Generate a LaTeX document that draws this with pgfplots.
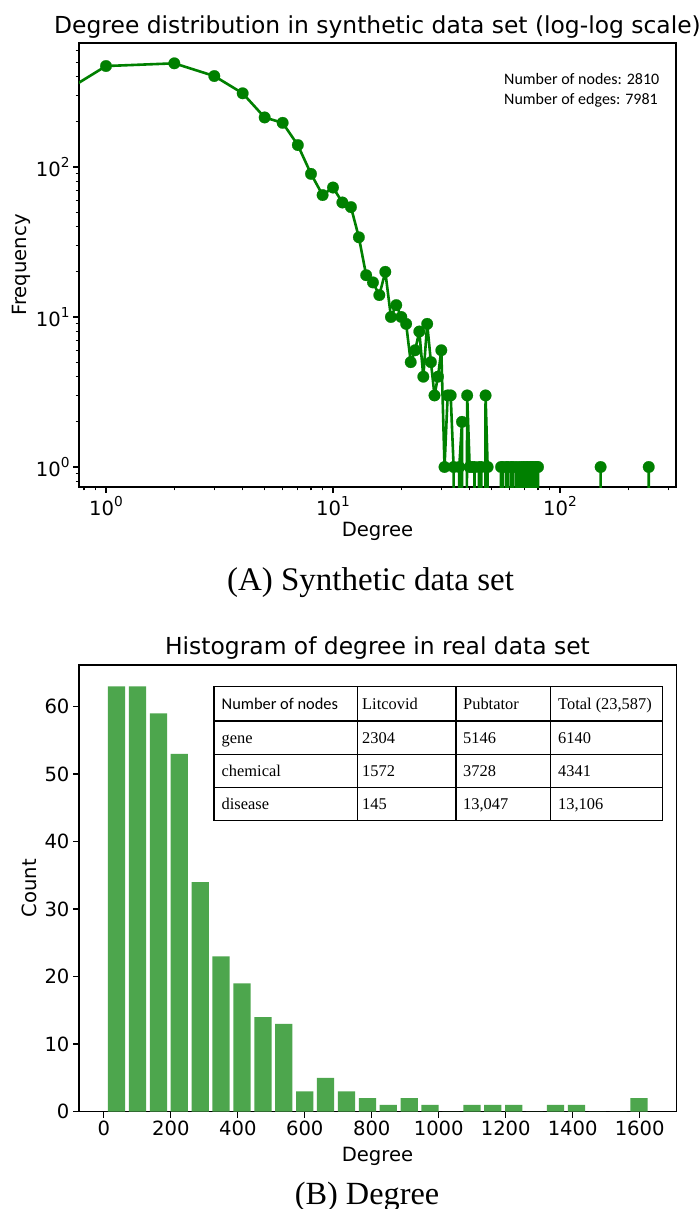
\documentclass[border=0pt]{standalone}
\usepackage{pgfplots}
\pgfplotsset{compat=1.18}
\usepackage{fontspec}
\setmainfont{DejaVu Sans}
\newfontfamily\carlito{Carlito}
\newfontfamily\tnr{Liberation Serif}
\definecolor{mplgreen}{HTML}{008000}
\definecolor{barg}{HTML}{4DA64D}
\newcommand\tp[1]{10\raisebox{0.45em}{\fontsize{13.7}{13}\selectfont #1}}
\newcommand\fs[1]{\fontsize{#1}{#1}\selectfont}
\pgfplotsset{
  mplstyle/.style={
    scale only axis,
    tick align=outside, tick pos=left,
    major tick length=6pt, minor tick length=3.5pt,
    every tick/.style={black, line width=1.1pt},
    axis line style={line width=1.3pt, black},
    ticklabel style={font=\fs{19.6}},
    /pgf/number format/assume math mode=true,
    /pgf/number format/1000 sep={},
  }
}
\begin{document}
\begin{tikzpicture}[x=1pt,y=1pt, tc/.style={inner sep=0pt, anchor=base west}]
\path[use as bounding box, fill=white] (0,0) rectangle (700,-1209);
% ---------------- (A) ----------------
\begin{axis}[mplstyle,
  at={(79pt,-487pt)}, anchor=south west,
  width=597pt, height=444pt,
  xmode=log, ymode=log,
  xmin=0.7606, xmax=324.4, ymin=0.7356, ymax=671,
  xtick={1,10,100}, xticklabels={\tp{0},\tp{1},\tp{2}},
  ytick={1,10,100}, yticklabels={\tp{0},\tp{1},\tp{2}},
  minor xtick={0.8,0.9,2,3,4,5,6,7,8,9,20,30,40,50,60,70,80,90,200,300},
  minor ytick={0.8,0.9,2,3,4,5,6,7,8,9,20,30,40,50,60,70,80,90,200,300,400,500,600},
]
\addplot[mplgreen, line width=2.6pt, line join=round, line cap=round, mark=*, mark size=5.8pt,
  mark options={solid, fill=mplgreen, draw=mplgreen, line width=0.2pt}] coordinates {
(0.5,247) (1,471) (2,491) (3,404) (4,310) (5,214) (6,197) (7,140) (8,90) (9,65)
(10,73) (11,58) (12,54) (13,34) (14,19) (15,17) (16,14) (17,20) (18,10) (19,12)
(20,10) (21,9) (22,5) (23,6) (24,8) (25,4) (26,9) (27,5) (28,3) (29,4) (30,6)
(31,1) (32,3) (33,3) (34,1) (35,1e-6) (36,1) (37,2) (38,1e-6) (39,3) (40,1)
(41,1) (42,1) (43,1e-6) (44,1) (45,1) (46,1e-6) (47,3) (48,1) (49,1e-6)
(54,1e-6) (55,1) (56,1) (57,1e-6) (58,1) (59,1) (60,1e-6) (61,1) (62,1) (63,1e-6)
(64,1) (65,1e-6) (66,1) (67,1e-6) (68,1) (69,1) (70,1e-6) (71,1) (72,1) (73,1e-6)
(74,1) (75,1) (76,1) (77,1e-6) (78,1) (79,1) (80,1) (81,1e-6)
(150,1e-6) (151,1) (152,1e-6) (245,1e-6) (246,1) (247,1e-6)
};
\end{axis}
\node[font=\fs{23.4}] at (377.5,-27) {Degree distribution in synthetic data set (log-log scale)};
\node[font=\fs{19.6}] at (377.5,-531.5) {Degree};
\node[font=\fs{19.6}, rotate=90] at (21,-265) {Frequency};
\node[font=\carlito\fs{16}, inner sep=0pt, anchor=west] at (504,-79) {Number of nodes: 2810};
\node[font=\carlito\fs{16}, inner sep=0pt, anchor=west] at (504,-100) {Number of edges: 7981};
\node[font=\tnr\fs{33}, anchor=base] at (370.5,-590) {(A) Synthetic data set};
% ---------------- (B) ----------------
\begin{axis}[mplstyle,
  at={(79pt,-1111.5pt)}, anchor=south west,
  width=597.7pt, height=446.5pt,
  xmin=-74.1, xmax=1710.5, ymin=0, ymax=66.15,
  xtick={0,200,...,1600}, ytick={0,10,...,60},
  minor tick num=0,
]
\addplot[ybar, bar width=51.5, fill=barg, draw=none] coordinates {
(38.2,63) (100.6,63) (163.0,59) (225.4,53) (287.8,34) (350.2,23) (412.6,19)
(475.0,14) (537.4,13) (599.8,3) (662.2,5) (724.6,3) (787.0,2) (849.4,1)
(911.8,2) (974.2,1) (1036.6,0) (1099.0,1) (1161.4,1) (1223.8,1) (1286.2,0)
(1348.6,1) (1411.0,1) (1473.4,0) (1535.8,0) (1598.2,2)
};
\end{axis}
\node[font=\fs{23.4}] at (377.5,-648) {Histogram of degree in real data set};
\node[font=\fs{19.6}] at (377.5,-1156.5) {Degree};
\node[font=\fs{19.6}, rotate=90] at (29,-888) {Count};
% table
\fill[white] (214,-686.7) rectangle (662.7,-820.7);
\draw[line width=1.4pt] (214,-686.7) rectangle (662.7,-820.7);
\foreach \yy in {721,754.3,787.3} \draw[line width=1.2pt] (214,-\yy) -- (662.7,-\yy);
\foreach \xx in {357.7,456,550.7} \draw[line width=1.2pt] (\xx,-686.7) -- (\xx,-820.7);
\node[tc, font=\carlito\fs{16.4}] at (221.5,-709.5) {Number of nodes};
\node[tc, font=\tnr\fs{16.4}] at (362,-709.5) {Litcovid};
\node[tc, font=\tnr\fs{16.4}] at (463,-709.5) {Pubtator};
\node[tc, font=\tnr\fs{16.4}] at (558,-709.5) {Total (23,587)};
\node[tc, font=\tnr\fs{16.4}] at (221.5,-743) {gene};
\node[tc, font=\tnr\fs{16.4}] at (362,-743) {2304};
\node[tc, font=\tnr\fs{16.4}] at (463,-743) {5146};
\node[tc, font=\tnr\fs{16.4}] at (558,-743) {6140};
\node[tc, font=\tnr\fs{16.4}] at (221.5,-776) {chemical};
\node[tc, font=\tnr\fs{16.4}] at (362,-776) {1572};
\node[tc, font=\tnr\fs{16.4}] at (463,-776) {3728};
\node[tc, font=\tnr\fs{16.4}] at (558,-776) {4341};
\node[tc, font=\tnr\fs{16.4}] at (221.5,-809) {disease};
\node[tc, font=\tnr\fs{16.4}] at (362,-809) {145};
\node[tc, font=\tnr\fs{16.4}] at (463,-809) {13,047};
\node[tc, font=\tnr\fs{16.4}] at (558,-809) {13,106};
\node[font=\tnr\fs{32.3}, anchor=base] at (367,-1204) {(B) Degree};
\end{tikzpicture}
\end{document}
